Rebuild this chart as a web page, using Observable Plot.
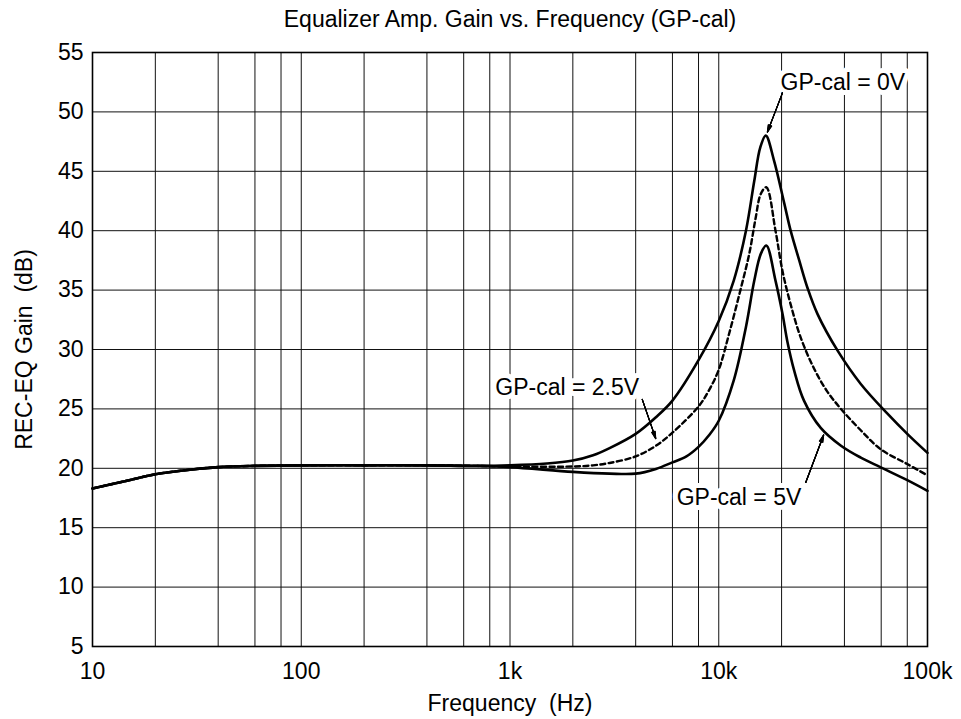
<!DOCTYPE html>
<html><head><meta charset="utf-8">
<script src="https://cdn.jsdelivr.net/npm/d3@7"></script>
<script src="https://cdn.jsdelivr.net/npm/@observablehq/plot@0.6"></script>
<style>body{margin:0;background:#fff} svg{display:block}</style>
</head><body><div id="chart"></div>
<script>
// ---- data ----
const titleText = "Equalizer Amp. Gain vs. Frequency (GP-cal)";
const xLabelText = "Frequency\u00a0\u00a0(Hz)";
const yLabelText = "REC-EQ Gain\u00a0\u00a0(dB)";

const xTicks = [10, 100, 1000, 10000, 100000];
const xTickLabels = ["10", "100", "1k", "10k", "100k"];
const yTicks = [5, 10, 15, 20, 25, 30, 35, 40, 45, 50, 55];
const xGrid = [20, 40, 60, 80, 100, 200, 400, 600, 800, 1000, 2000, 4000, 6000, 8000, 10000, 20000, 40000, 60000, 80000];
const yGrid = [10, 15, 20, 25, 30, 35, 40, 45, 50];

// common low-frequency part
const lowFreq = [10, 15, 20, 30, 40, 60, 100, 200, 400, 700];
const lowGain = [18.3, 19.0, 19.5, 19.9, 20.1, 20.2, 20.25, 20.25, 20.25, 20.2];

// GP-cal = 0V
const freq0 = [1000, 1500, 2000, 2500, 3000, 4000, 5000, 6000, 8000, 10000, 11800, 13500, 14800, 15800, 16800, 18400, 20600, 22100, 24300, 26600, 29700, 37100, 47900, 64300, 80000, 100000];
const gain0 = [20.25, 20.4, 20.65, 21.1, 21.7, 22.9, 24.3, 25.7, 29.1, 32.4, 35.8, 40.0, 44.2, 47.0, 48.0, 45.9, 42.3, 40.0, 37.5, 35.2, 33.0, 29.9, 27.1, 24.6, 22.9, 21.3];

// GP-cal = 2.5V (dashed)
const freq25 = [1000, 2000, 2500, 3000, 4000, 5000, 6000, 8000, 9000, 10000, 11200, 12700, 14000, 15000, 15900, 16900, 18700, 20200, 22100, 24700, 28600, 33000, 38500, 47900, 59700, 80000, 100000];
const gain25 = [20.15, 20.15, 20.25, 20.45, 21.0, 21.9, 23.0, 25.2, 26.6, 28.3, 31.3, 35.0, 38.05, 41.0, 43.1, 43.66, 40.0, 36.6, 33.8, 31.0, 28.4, 26.5, 25.0, 23.2, 21.6, 20.36, 19.4];

// GP-cal = 5V
const freq5 = [1000, 2000, 3000, 4000, 5000, 6000, 7000, 8000, 9000, 10000, 11800, 13500, 14800, 15900, 16900, 18700, 20200, 21300, 23000, 25600, 30800, 38500, 47900, 59700, 80000, 100000];
const gain5 = [20.1, 19.7, 19.55, 19.55, 19.95, 20.5, 21.0, 21.8, 22.8, 24.0, 27.4, 31.9, 35.8, 38.05, 38.75, 35.8, 33.0, 30.7, 28.2, 25.7, 23.4, 21.9, 20.9, 20.08, 19.0, 18.1];

// annotations (data coordinates)
const annText = ["GP-cal = 0V", "GP-cal = 2.5V", "GP-cal = 5V"];
const annFreq = [39300, 1880, 12500];
const annGain = [52.5, 26.75, 17.57];
const arrowFromFreq = [20200, 4300, 26100];
const arrowFromGain = [51.6, 25.8, 18.8];
const arrowToFreq = [17100, 4990, 31800];
const arrowToGain = [48.3, 22.5, 22.8];

// ---- build ----
const series = (f, g) => {
  const xs = lowFreq.concat(f), ys = lowGain.concat(g);
  return xs.map((x, i) => ({x, y: ys[i]}));
};
const s0 = series(freq0, gain0);
const s25 = series(freq25, gain25);
const s5 = series(freq5, gain5);
const labels = annText.map((t, i) => ({t, x: annFreq[i], y: annGain[i]}));
const arrows = annText.map((t, i) => ({x1: arrowFromFreq[i], y1: arrowFromGain[i], x2: arrowToFreq[i], y2: arrowToGain[i]}));

const font = "'Liberation Sans', Arial, Helvetica, sans-serif";
const fs = 23;

const chart = Plot.plot({
  width: 961, height: 719,
  marginLeft: 92, marginRight: 34, marginTop: 52, marginBottom: 73,
  style: {fontFamily: font, fontSize: fs + "px", color: "#000", background: "#fff"},
  x: {type: "log", domain: [10, 100000]},
  y: {domain: [5, 55]},
  marks: [
    Plot.ruleX(xGrid, {stroke: "#111", strokeWidth: 1}),
    Plot.ruleY(yGrid, {stroke: "#111", strokeWidth: 1}),
    Plot.frame({stroke: "#000", strokeWidth: 1.6}),
    Plot.axisX(xTicks, {tickSize: 0, tickPadding: 16, fontSize: fs, label: null,
      tickFormat: d => xTickLabels[xTicks.indexOf(d)]}),
    Plot.axisY(yTicks, {tickSize: 0, tickPadding: 9, fontSize: fs, label: null}),
    Plot.line(s0, {x: "x", y: "y", stroke: "#000", strokeWidth: 2.6, curve: "catmull-rom"}),
    Plot.line(s25, {x: "x", y: "y", stroke: "#000", strokeWidth: 2.4, strokeDasharray: "5,3.5", curve: "catmull-rom"}),
    Plot.line(s5, {x: "x", y: "y", stroke: "#000", strokeWidth: 2.6, curve: "catmull-rom"}),
    Plot.text(labels, {x: "x", y: "y", text: "t", fontSize: fs, fill: "#000",
      stroke: "#fff", strokeWidth: 10, textAnchor: "middle", lineAnchor: "middle"}),
    ...[6, 12, 18, 24, 30].map(a => Plot.arrow(arrows, {x1: "x1", y1: "y1", x2: "x2", y2: "y2",
      stroke: "#000", strokeWidth: 1.1, headLength: 10, headAngle: a})),
    Plot.text([titleText], {frameAnchor: "top", dy: -33, fontSize: fs, fill: "#000",
      textAnchor: "middle", lineAnchor: "middle"}),
    Plot.text([xLabelText], {frameAnchor: "bottom", dy: 57, fontSize: fs, fill: "#000",
      textAnchor: "middle", lineAnchor: "middle"}),
    Plot.text([yLabelText], {frameAnchor: "left", dx: -68, rotate: -90, fontSize: fs, fill: "#000",
      textAnchor: "middle", lineAnchor: "middle"})
  ]
});
document.getElementById("chart").appendChild(chart);
</script>
</body></html>
